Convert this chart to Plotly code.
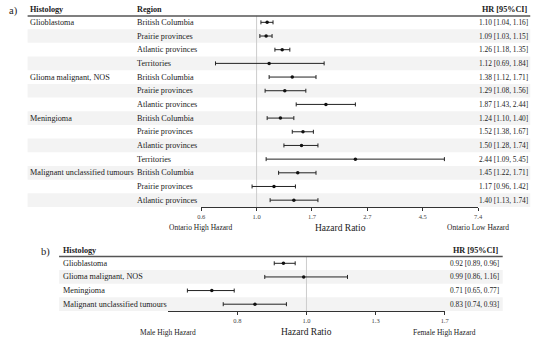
import plotly.graph_objects as go

# ---------------- data ----------------
hist_a = ["Glioblastoma", "", "", "", "Glioma malignant, NOS", "", "", "Meningioma", "", "", "",
          "Malignant unclassified tumours", "", ""]
region_a = ["British Columbia", "Prairie provinces", "Atlantic provinces", "Territories",
            "British Columbia", "Prairie provinces", "Atlantic provinces",
            "British Columbia", "Prairie provinces", "Atlantic provinces", "Territories",
            "British Columbia", "Prairie provinces", "Atlantic provinces"]
hr_a = [1.10, 1.09, 1.26, 1.12, 1.38, 1.29, 1.87, 1.24, 1.52, 1.50, 2.44, 1.45, 1.17, 1.40]
lo_a = [1.04, 1.03, 1.18, 0.69, 1.12, 1.08, 1.43, 1.10, 1.38, 1.28, 1.09, 1.22, 0.96, 1.13]
hi_a = [1.16, 1.15, 1.35, 1.84, 1.71, 1.56, 2.44, 1.40, 1.67, 1.74, 5.45, 1.71, 1.42, 1.74]
tick_vals_a = [0.6065, 1.0, 1.6487, 2.7183, 4.4817, 7.3891]
tick_text_a = ["0.6", "1.0", "1.7", "2.7", "4.5", "7.4"]

hist_b = ["Glioblastoma", "Glioma malignant, NOS", "Meningioma", "Malignant unclassified tumours"]
hr_b = [0.92, 0.99, 0.71, 0.83]
lo_b = [0.89, 0.86, 0.65, 0.74]
hi_b = [0.96, 1.16, 0.77, 0.93]
tick_vals_b = [0.6065, 0.7788, 1.0, 1.2840, 1.6487]
tick_text_b = ["0.6", "0.8", "1.0", "1.3", "1.7"]

# ---------------- layout helpers ----------------
W, H = 550, 341
FONT = "Liberation Serif, Times New Roman, serif"
TXT = "#222222"
LBL = 8.2   # row label size
HRS = 7.4   # HR text size
HDR = 8.2   # header size


def px(x):
    return x / W


def py(y):
    return 1 - y / H


def fmt(h, l, u):
    return f"{h:.2f} [{l:.2f}, {u:.2f}]"


fig = go.Figure()

fig.add_trace(go.Scatter(
    x=hr_a, y=list(range(len(hr_a))), mode="markers",
    marker=dict(color="#111111", size=3.5, symbol="circle"),
    error_x=dict(type="data", symmetric=False,
                 array=[h - e for h, e in zip(hi_a, hr_a)],
                 arrayminus=[e - l for e, l in zip(hr_a, lo_a)],
                 color="#222222", thickness=1, width=2),
    xaxis="x", yaxis="y", hoverinfo="skip"))

fig.add_trace(go.Scatter(
    x=hr_b, y=list(range(len(hr_b))), mode="markers",
    marker=dict(color="#111111", size=3.5, symbol="circle"),
    error_x=dict(type="data", symmetric=False,
                 array=[h - e for h, e in zip(hi_b, hr_b)],
                 arrayminus=[e - l for e, l in zip(hr_b, lo_b)],
                 color="#222222", thickness=1, width=2),
    xaxis="x2", yaxis="y2", hoverinfo="skip"))

shapes = []
ann = []

# ---- panel a ----
for i in range(len(hr_a)):
    if i % 2 == 1:
        shapes.append(dict(type="rect", xref="paper", yref="y", x0=px(24), x1=px(535),
                           y0=i - 0.5, y1=i + 0.5, fillcolor="#f3f3f3", line=dict(width=0),
                           layer="below"))
shapes.append(dict(type="line", xref="x", yref="y", x0=1, x1=1, y0=-0.5, y1=len(hr_a) - 0.5,
                   line=dict(color="#cccccc", width=1), layer="below"))
shapes.append(dict(type="line", xref="paper", yref="paper", x0=px(24), x1=px(535),
                   y0=py(16), y1=py(16), line=dict(color="#555555", width=1.5)))

for i in range(len(hr_a)):
    if hist_a[i]:
        ann.append(dict(x=px(24), y=i, xref="paper", yref="y", text=hist_a[i],
                        xanchor="left", yanchor="middle", showarrow=False,
                        font=dict(size=LBL, color=TXT)))
    ann.append(dict(x=px(133), y=i, xref="paper", yref="y", text=region_a[i],
                    xanchor="left", yanchor="middle", showarrow=False,
                    font=dict(size=LBL, color=TXT)))
    ann.append(dict(x=px(535), y=i, xref="paper", yref="y", text=fmt(hr_a[i], lo_a[i], hi_a[i]),
                    xanchor="right", yanchor="middle", showarrow=False,
                    font=dict(size=HRS, color=TXT)))

ann += [
    dict(x=px(3), y=py(11), text="a)", xanchor="left", font=dict(size=10.5, color=TXT)),
    dict(x=px(24), y=py(9.5), text="<b>Histology</b>", xanchor="left", font=dict(size=HDR, color=TXT)),
    dict(x=px(133), y=py(9.5), text="<b>Region</b>", xanchor="left", font=dict(size=HDR, color=TXT)),
    dict(x=px(535), y=py(9.5), text="<b>HR [95%CI]</b>", xanchor="right", font=dict(size=HDR, color=TXT)),
    dict(x=px(200.5), y=py(227.5), text="Ontario High Hazard", xanchor="center", font=dict(size=7.5, color=TXT)),
    dict(x=px(342), y=py(228), text="Hazard Ratio", xanchor="center", font=dict(size=9.5, color=TXT)),
    dict(x=px(482), y=py(227.5), text="Ontario Low Hazard", xanchor="center", font=dict(size=7.5, color=TXT)),
]

# ---- panel b ----
for i in range(len(hr_b)):
    if i % 2 == 1:
        shapes.append(dict(type="rect", xref="paper", yref="y2", x0=px(56), x1=px(507),
                           y0=i - 0.5, y1=i + 0.5, fillcolor="#f3f3f3", line=dict(width=0),
                           layer="below"))
shapes.append(dict(type="line", xref="x2", yref="y2", x0=1, x1=1, y0=-0.5, y1=len(hr_b) - 0.5,
                   line=dict(color="#cccccc", width=1), layer="below"))
shapes.append(dict(type="line", xref="paper", yref="paper", x0=px(56), x1=px(507),
                   y0=py(256.5), y1=py(256.5), line=dict(color="#555555", width=1.5)))

for i in range(len(hr_b)):
    ann.append(dict(x=px(58), y=i, xref="paper", yref="y2", text=hist_b[i],
                    xanchor="left", yanchor="middle", showarrow=False,
                    font=dict(size=LBL, color=TXT)))
    ann.append(dict(x=px(505), y=i, xref="paper", yref="y2", text=fmt(hr_b[i], lo_b[i], hi_b[i]),
                    xanchor="right", yanchor="middle", showarrow=False,
                    font=dict(size=HRS, color=TXT)))

ann += [
    dict(x=px(36), y=py(252), text="b)", xanchor="left", font=dict(size=10.5, color=TXT)),
    dict(x=px(58), y=py(250.5), text="<b>Histology</b>", xanchor="left", font=dict(size=HDR, color=TXT)),
    dict(x=px(505), y=py(250.5), text="<b>HR [95%CI]</b>", xanchor="right", font=dict(size=HDR, color=TXT)),
    dict(x=px(167), y=py(332), text="Male High Hazard", xanchor="center", font=dict(size=7.5, color=TXT)),
    dict(x=px(307.5), y=py(332), text="Hazard Ratio", xanchor="center", font=dict(size=9.5, color=TXT)),
    dict(x=px(448), y=py(332), text="Female High Hazard", xanchor="center", font=dict(size=7.5, color=TXT)),
]

for a in ann:
    a.setdefault("xref", "paper")
    a.setdefault("yref", "paper")
    a.setdefault("yanchor", "middle")
    a.setdefault("showarrow", False)

xcommon = dict(type="log", showline=True, linecolor="#333333", linewidth=1.2,
               ticks="outside", ticklen=3, tickcolor="#333333", tickwidth=1,
               showgrid=False, zeroline=False, tickfont=dict(size=6.5, color="#444444"),
               fixedrange=True)

fig.update_layout(
    width=W, height=H, margin=dict(l=0, r=0, t=0, b=0),
    paper_bgcolor="white", plot_bgcolor="rgba(0,0,0,0)",
    showlegend=False,
    font=dict(family=FONT, color=TXT),
    xaxis=dict(domain=[px(200.5), px(482)], range=[-0.2171, 0.8686],
               tickvals=tick_vals_a, ticktext=tick_text_a, anchor="y", **xcommon),
    yaxis=dict(domain=[py(207), py(15.5)], range=[len(hr_a) - 0.5, -0.5], visible=False,
               fixedrange=True),
    xaxis2=dict(domain=[px(167), px(448)], range=[-0.2171, 0.2171],
                tickvals=tick_vals_b, ticktext=tick_text_b, anchor="y2", **xcommon),
    yaxis2=dict(domain=[py(311), py(256.5)], range=[len(hr_b) - 0.5, -0.5], visible=False,
                fixedrange=True),
    shapes=shapes,
    annotations=ann,
)

fig.write_html("out.html", config={"displayModeBar": False},
               post_script="document.body.style.margin='0';document.body.style.overflow='hidden';")
